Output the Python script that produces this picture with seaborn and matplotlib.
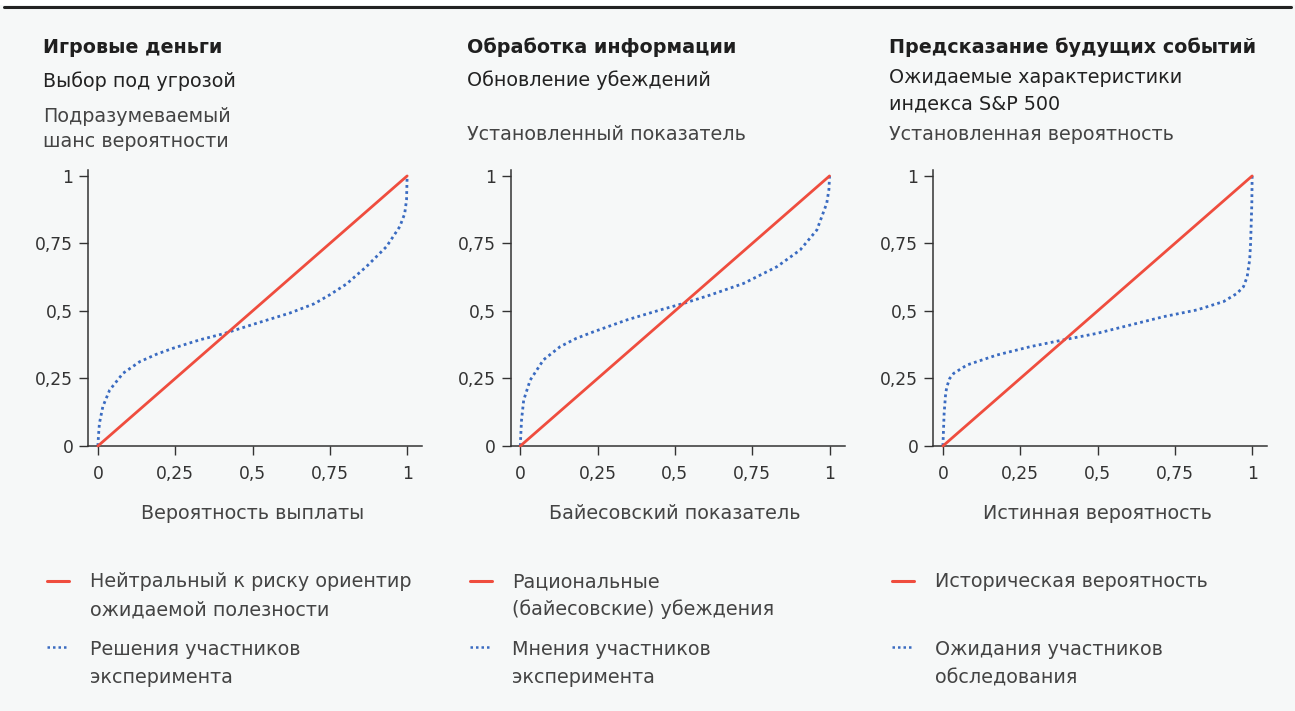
import matplotlib
matplotlib.use("Agg")
import matplotlib.pyplot as plt
from matplotlib.lines import Line2D
from matplotlib.patches import Rectangle
import seaborn as sns

# ---- text content -------------------------------------------------------
titles = ["Игровые деньги", "Обработка информации", "Предсказание будущих событий"]
subtitles = ["Выбор под угрозой", "Обновление убеждений",
             "Ожидаемые характеристики\nиндекса S&P 500"]
y_labels = ["Подразумеваемый\nшанс вероятности", "Установленный показатель",
            "Установленная вероятность"]
x_labels = ["Вероятность выплаты", "Байесовский показатель", "Истинная вероятность"]
benchmark_labels = ["Нейтральный к риску ориентир\nожидаемой полезности",
                    "Рациональные\n(байесовские) убеждения",
                    "Историческая вероятность"]
participant_labels = ["Решения участников\nэксперимента",
                      "Мнения участников\nэксперимента",
                      "Ожидания участников\nобследования"]

tick_values = [0, 0.25, 0.5, 0.75, 1]
tick_labels = ["0", "0,25", "0,5", "0,75", "1"]

# ---- data ---------------------------------------------------------------
benchmark_x = [0, 1]
benchmark_y = [0, 1]

gamble_x = [0, 0.002, 0.005, 0.016, 0.038, 0.081, 0.135, 0.19, 0.243, 0.329, 0.41,
            0.512, 0.62, 0.70, 0.75, 0.804, 0.868, 0.933, 0.976, 0.992, 0.998, 1]
gamble_y = [0, 0.04, 0.084, 0.146, 0.207, 0.269, 0.312, 0.34, 0.362, 0.393, 0.417,
            0.454, 0.492, 0.527, 0.56, 0.60, 0.664, 0.738, 0.812, 0.86, 0.911, 1]

beliefs_x = [0, 0.002, 0.004, 0.011, 0.032, 0.075, 0.129, 0.18, 0.237, 0.345, 0.453,
             0.528, 0.614, 0.722, 0.830, 0.905, 0.959, 0.991, 0.998, 1]
beliefs_y = [0, 0.05, 0.096, 0.170, 0.244, 0.319, 0.368, 0.398, 0.423, 0.467, 0.504,
             0.528, 0.559, 0.602, 0.664, 0.726, 0.8, 0.899, 0.95, 1]

forecast_x = [0, 0.002, 0.004, 0.009, 0.013, 0.022, 0.035, 0.078, 0.175, 0.283, 0.39,
              0.498, 0.606, 0.714, 0.822, 0.908, 0.951, 0.972, 0.984, 0.992, 0.995,
              0.999, 1]
forecast_y = [0, 0.06, 0.121, 0.195, 0.22, 0.25, 0.269, 0.3, 0.337, 0.368, 0.393,
              0.417, 0.448, 0.479, 0.504, 0.535, 0.565, 0.59, 0.627, 0.69, 0.751,
              0.9, 1]

curves = [(gamble_x, gamble_y), (beliefs_x, beliefs_y), (forecast_x, forecast_y)]

# ---- style --------------------------------------------------------------
BG = "#f6f8f8"
RED = "#ef4d3e"
BLUE = "#3a6bc1"
INK = "#1f1f1f"
GREY = "#444444"

sns.set_theme(style="ticks")
plt.rcParams["font.family"] = ["DejaVu Sans"]
plt.rcParams["axes.facecolor"] = BG
plt.rcParams["figure.facecolor"] = BG

W, H = 1295, 711
fig = plt.figure(figsize=(W / 100, H / 100), dpi=100)


def fx(px):
    return px / W


def fy(py):
    return 1 - py / H


# top rule
fig.add_artist(Rectangle((0, fy(5)), 1, 1 - fy(5), transform=fig.transFigure,
                         facecolor="white", edgecolor="none"))
fig.add_artist(Line2D([fx(4), fx(1291)], [fy(6.5), fy(6.5)], transform=fig.transFigure,
                      color="#222222", lw=2.2))

col_x = [43, 467, 889]
axes_left = [88.3, 510.7, 933.3]
ax_w, ax_top, ax_bottom = 334, 170, 446
x_lo, x_hi = -0.031, 1.049
y_lo, y_hi = 0.0, 1.022

subtitle_base = [[87], [86], [83, 110]]
ylabel_base = [[122, 147], [140], [140]]

key_x = [(47, 69), (470, 492), (892, 914)]
legend_text_x = [90, 512, 935]

FS = 13.8
for i in range(3):
    ax = fig.add_axes([fx(axes_left[i]), fy(ax_bottom), fx(ax_w),
                       (ax_bottom - ax_top) / H])
    ax.set_facecolor(BG)

    sns.lineplot(x=benchmark_x, y=benchmark_y, ax=ax, color=RED, lw=2.0,
                 sort=False, estimator=None, zorder=3)
    cx, cy = curves[i]
    sns.lineplot(x=cx, y=cy, ax=ax, color=BLUE, lw=2.0,
                 linestyle=(0, (1, 1.2)), sort=False, estimator=None, zorder=2)
    for ln in ax.lines:
        ln.set_clip_on(False)

    ax.set_xlim(x_lo, x_hi)
    ax.set_ylim(y_lo, y_hi)
    ax.set_xticks(tick_values)
    ax.set_xticklabels(tick_labels)
    ax.set_yticks(tick_values)
    ax.set_yticklabels(tick_labels)
    ax.tick_params(axis="both", length=6.5, width=1.0, color="#333333",
                   labelsize=12.3, labelcolor="#333333")
    ax.tick_params(axis="x", pad=7)
    ax.tick_params(axis="y", pad=4.3)
    sns.despine(ax=ax)
    for side in ("left", "bottom"):
        ax.spines[side].set_color("#333333")
        ax.spines[side].set_linewidth(1.1)

    ax.set_xlabel(x_labels[i], fontsize=FS, color=GREY)
    ax.xaxis.set_label_coords((0.5 - x_lo) / (x_hi - x_lo), (ax_bottom - 504) / (ax_bottom - ax_top))
    ax.set_ylabel("")

    # headings above the panel
    fig.text(fx(col_x[i]), fy(53), titles[i], fontsize=FS, fontweight="bold",
             color=INK, va="baseline", ha="left")
    for line, b in zip(subtitles[i].split("\n"), subtitle_base[i]):
        fig.text(fx(col_x[i]), fy(b), line, fontsize=FS, color="#222222",
                 va="baseline", ha="left")
    for line, b in zip(y_labels[i].split("\n"), ylabel_base[i]):
        fig.text(fx(col_x[i]), fy(b), line, fontsize=FS, color=GREY,
                 va="baseline", ha="left")

    # legend entries under the panel
    k0, k1 = key_x[i]
    fig.add_artist(Line2D([fx(k0), fx(k1)], [fy(580.5), fy(580.5)],
                          transform=fig.transFigure, color=RED, lw=2.2))
    fig.add_artist(Line2D([fx(k0), fx(k1)], [fy(647), fy(647)],
                          transform=fig.transFigure, color=BLUE, lw=1.8,
                          linestyle=(0, (1, 1.2))))
    for j, line in enumerate(benchmark_labels[i].split("\n")):
        fig.text(fx(legend_text_x[i]), fy(587 + 28 * j), line, fontsize=FS,
                 color=GREY, va="baseline", ha="left")
    for j, line in enumerate(participant_labels[i].split("\n")):
        fig.text(fx(legend_text_x[i]), fy(655 + 28 * j), line, fontsize=FS,
                 color=GREY, va="baseline", ha="left")

fig.savefig("out.png", dpi=100, facecolor=BG)
